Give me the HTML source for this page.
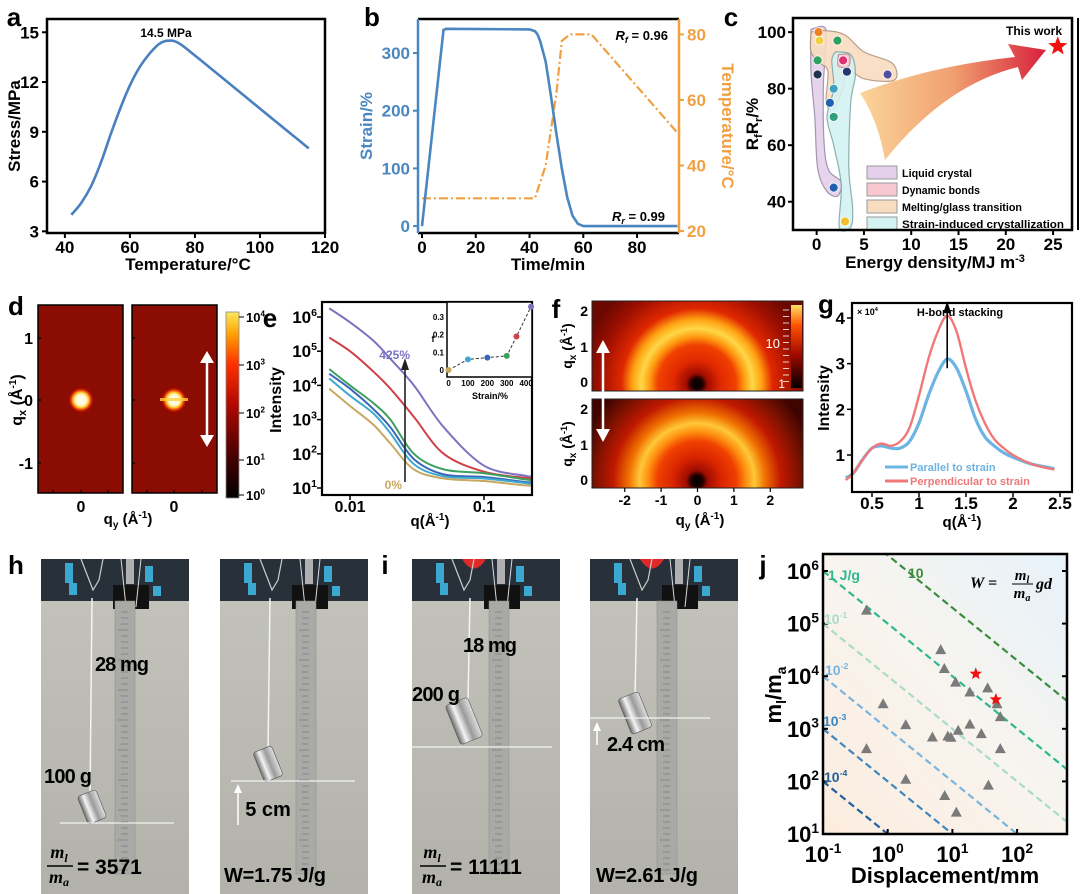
<!DOCTYPE html>
<html><head><meta charset="utf-8">
<style>
html,body{margin:0;padding:0;background:#fff;overflow:hidden;}
svg{display:block;font-family:"Liberation Sans",Arial,sans-serif;}
</style></head>
<body>
<svg id="fig" width="1080" height="894" viewBox="0 0 1080 894" xmlns="http://www.w3.org/2000/svg">
<defs>
<linearGradient id="fanGrad" x1="0" y1="0" x2="1" y2="0">
<stop offset="0" stop-color="#fbd49a"/><stop offset="0.5" stop-color="#f0a070"/><stop offset="1" stop-color="#d8203c"/></linearGradient>
<radialGradient id="spotL"><stop offset="0" stop-color="#ffffff"/><stop offset="0.45" stop-color="#fff6c0"/><stop offset="0.6" stop-color="#ffc020"/><stop offset="0.8" stop-color="#e02000"/><stop offset="1" stop-color="#8b0c02" stop-opacity="0"/></radialGradient>
<linearGradient id="cbarD" x1="0" y1="1" x2="0" y2="0"><stop offset="0" stop-color="#000"/><stop offset="0.25" stop-color="#500000"/><stop offset="0.5" stop-color="#b00800"/><stop offset="0.72" stop-color="#ff3000"/><stop offset="0.88" stop-color="#ffa000"/><stop offset="1" stop-color="#ffe860"/></linearGradient>
<radialGradient id="ringTop" cx="0.5" cy="0.5" r="0.5"><stop offset="0" stop-color="#000"/><stop offset="0.05" stop-color="#200000"/><stop offset="0.09" stop-color="#a00c00"/><stop offset="0.2" stop-color="#e02800"/><stop offset="0.33" stop-color="#f04000"/><stop offset="0.4" stop-color="#ff9a10"/><stop offset="0.47" stop-color="#ffd848"/><stop offset="0.55" stop-color="#ffa010"/><stop offset="0.64" stop-color="#e02800"/><stop offset="0.82" stop-color="#a01000"/><stop offset="1" stop-color="#6a0800"/></radialGradient>
<radialGradient id="ringBot" cx="0.5" cy="0.5" r="0.5"><stop offset="0" stop-color="#000"/><stop offset="0.05" stop-color="#200000"/><stop offset="0.09" stop-color="#a00c00"/><stop offset="0.2" stop-color="#d82400"/><stop offset="0.33" stop-color="#f04000"/><stop offset="0.41" stop-color="#ff9010"/><stop offset="0.48" stop-color="#ffc838"/><stop offset="0.57" stop-color="#f07000"/><stop offset="0.7" stop-color="#c01800"/><stop offset="0.88" stop-color="#701000"/><stop offset="1" stop-color="#400400"/></radialGradient>
<linearGradient id="cbarF" x1="0" y1="1" x2="0" y2="0"><stop offset="0" stop-color="#000"/><stop offset="0.4" stop-color="#a00800"/><stop offset="0.75" stop-color="#ff5000"/><stop offset="1" stop-color="#ffe060"/></linearGradient>
<linearGradient id="jBg" x1="0" y1="1" x2="1" y2="0"><stop offset="0" stop-color="#fcecde"/><stop offset="0.5" stop-color="#f8f4ee"/><stop offset="1" stop-color="#e6f2fa"/></linearGradient>
<linearGradient id="photoBg" x1="0" y1="0" x2="0" y2="1"><stop offset="0" stop-color="#c4c4bc"/><stop offset="1" stop-color="#b2b2aa"/></linearGradient>
<linearGradient id="metal" x1="0" y1="0" x2="1" y2="0"><stop offset="0" stop-color="#6a6a6a"/><stop offset="0.3" stop-color="#f4f4f4"/><stop offset="0.6" stop-color="#9a9a9a"/><stop offset="1" stop-color="#e0e0e0"/></linearGradient>
<clipPath id="clipE"><rect x="322" y="302" width="210" height="193"/></clipPath>
<clipPath id="clipJ"><rect x="823" y="554" width="244" height="280"/></clipPath>
<clipPath id="clipFT"><rect x="592" y="301" width="211" height="90"/></clipPath>
<clipPath id="clipFB"><rect x="592" y="399" width="211" height="89"/></clipPath>
</defs>
</svg>
<script>
// ---------------- DATA ----------------
const aTemp=[42,45,48,51,54,57,60,63,66,69,72,75,80,85,90,95,100,105,110,115];
const aStress=[4,4.7,5.7,7.1,8.8,10.4,11.8,12.9,13.7,14.3,14.5,14.35,13.6,12.8,12,11.2,10.4,9.6,8.8,8];
const aXTicks=[40,60,80,100,120];
const aYTicks=[3,6,9,12,15];
const bTimeS=[0,8,9,40,42,43,44,46,48,50,52,54,56,58,60,95];
const bStrain=[0,340,342,341,338,332,320,285,225,160,100,50,18,4,0,0];
const bTimeT=[0,42,46,50,52,55,63,95];
const bTemp=[30,30,40,62,78,80,80,50];
const bXTicks=[0,20,40,60,80];
const bYTicks=[0,100,200,300];
const bY2Ticks=[20,40,60,80];
const cXTicks=[0,5,10,15,20,25];
const cYTicks=[40,60,80,100];
const cPtsX=[0.2,0.3,0.1,0.1,2.2,7.5,2.8,3.2,1.8,1.4,1.8,1.8,3.0];
const cPtsY=[100,97,90,85,97,85,90,86,80,75,70,45,33];
const cPtsC=['#f08020','#f0d040','#30a060','#203050','#30a060','#5050a0','#e03070','#203870','#40a0c0','#2060b0','#30a080','#2060b0','#f0c030'];
const cLegend=['Liquid crystal','Dynamic bonds','Melting/glass transition','Strain-induced crystallization'];
const cStar=[25.5,95];
const eQ=[0.007,0.01,0.015,0.02,0.03,0.05,0.1,0.2,0.23];
const eSeries=[
 [1.8e6,7e5,2e5,6e4,1e4,6e2,45,23,22],
 [2.5e5,1e5,2.5e4,8e3,1.2e3,1e2,30,20,19],
 [3e4,1e4,3e3,1e3,100,35,27,18,17],
 [2.2e4,8e3,2e3,6e2,70,25,21,15,15],
 [1.6e4,5e3,1.5e3,4e2,50,22,19,14,13],
 [8e3,2.5e3,7e2,2e2,35,19,16,12,12]];
const eColors=['#7b72c0','#d04048','#3ca060','#3a68b8','#40a8d0','#c8a860'];
const eYTicks=[1,2,3,4,5,6];
const eXTicks=[0.01,0.1];
const insStrain=[0,100,200,300,350,425];
const insF=[0,0.06,0.07,0.08,0.19,0.36];
const gQ=[0.22,0.3,0.4,0.5,0.6,0.7,0.8,0.9,1.0,1.1,1.2,1.3,1.4,1.5,1.6,1.7,1.8,1.9,2.0,2.2,2.44];
const gPar=[0.5,0.6,0.9,1.15,1.2,1.15,1.15,1.3,1.7,2.3,2.8,3.1,2.9,2.4,1.8,1.4,1.2,1.05,0.95,0.8,0.7];
const gPerp=[0.45,0.6,0.9,1.15,1.25,1.2,1.3,1.6,2.3,3.1,3.7,4.05,3.7,2.9,2.2,1.7,1.35,1.15,1.0,0.8,0.68];
const gXTicks=[0.5,1,1.5,2,2.5];
const gYTicks=[1,2,3,4];
const jDisp=[0.47,0.47,0.85,1.9,1.9,6.6,7.5,4.9,7.6,8.5,9.5,11.5,11.2,12.3,18.6,18.6,28,35,36,49,55,55];
const jRatio=[1.8e5,420,3000,1200,110,32000,14000,700,54,730,690,26,7700,940,5000,1230,810,6000,85,3000,420,1700];
const jStarDisp=[23,47];
const jStarRatio=[11100,3600];
const jW=[20,1,0.1,0.01,0.001,0.0001];
const jWColors=['#3c8c3c','#2eb890','#a8dcc8','#7ab4dc','#3f86c0','#2060a0'];
const jXTicks=[-1,0,1,2];
const jYTicks=[1,2,3,4,5,6];

// ---------------- HELPERS ----------------
const NS='http://www.w3.org/2000/svg';
const svg=document.getElementById('fig');
function mk(tag,parent,attrs,name,inter){
 const e=document.createElementNS(NS,tag);
 for(const k in attrs) e.setAttribute(k,attrs[k]);
 
 
 parent.appendChild(e);return e;}
function grp(name){return mk('g',svg,{},name,false);}
function txt(p,x,y,s,size,anchor,fill,name,weight,extra){
 const a={x:x,y:y,'font-size':size,'text-anchor':anchor||'middle',fill:fill||'#000','font-weight':weight||'bold'};
 if(extra) for(const k in extra) a[k]=extra[k];
 const e=mk('text',p,a,name,false);e.textContent=s;return e;}
function sup(p,x,y,base,ex,size,anchor,fill,name){
 const e=mk('text',p,{x:x,y:y,'font-size':size,'text-anchor':anchor||'middle',fill:fill||'#000','font-weight':'bold'},name,false);
 const t1=document.createElementNS(NS,'tspan');t1.textContent=base;e.appendChild(t1);
 const t2=document.createElementNS(NS,'tspan');t2.setAttribute('dy',-size*0.42);t2.setAttribute('font-size',size*0.62);t2.textContent=ex;e.appendChild(t2);
 return e;}
function lin(d0,d1,r0,r1){return v=>r0+(v-d0)/(d1-d0)*(r1-r0);}
function logs(d0,d1,r0,r1){return v=>r0+(Math.log10(v)-d0)/(d1-d0)*(r1-r0);}
function pathOf(xs,ys,fx,fy){let d='';for(let i=0;i<xs.length;i++)d+=(i?'L':'M')+fx(xs[i]).toFixed(1)+','+fy(ys[i]).toFixed(1);return d;}
function smooth(xs,ys,fx,fy){
 const P=xs.map((v,i)=>[fx(v),fy(ys[i])]);let d='M'+P[0][0].toFixed(1)+','+P[0][1].toFixed(1);
 for(let i=0;i<P.length-1;i++){const p0=P[i-1]||P[i],p1=P[i],p2=P[i+1],p3=P[i+2]||P[i+1];
  const c1=[p1[0]+(p2[0]-p0[0])/6,p1[1]+(p2[1]-p0[1])/6],c2=[p2[0]-(p3[0]-p1[0])/6,p2[1]-(p3[1]-p1[1])/6];
  d+='C'+c1[0].toFixed(1)+','+c1[1].toFixed(1)+' '+c2[0].toFixed(1)+','+c2[1].toFixed(1)+' '+p2[0].toFixed(1)+','+p2[1].toFixed(1);}
 return d;}
function label(x,y,s){return txt(svg,x,y,s,26,'middle','#000','panel-label-'+s,'bold');}

// ---------------- PANEL A ----------------
(function(){
 const g=grp('panel-a-chart');
 const X0=47,X1=325,Y0=19,Y1=233;
 const fx=lin(34.5,120,X0,X1), fy=lin(2.9,15.8,Y1,Y0);
 aXTicks.forEach(v=>{mk('line',g,{x1:fx(v),x2:fx(v),y1:Y1,y2:Y1+5,stroke:'#000','stroke-width':2},'x-tick',false);
  txt(g,fx(v),Y1+20,String(v),17,'middle','#000','x-tick-label');});
 aYTicks.forEach(v=>{mk('line',g,{x1:X0-5,x2:X0,y1:fy(v),y2:fy(v),stroke:'#000','stroke-width':2},'y-tick',false);
  txt(g,X0-8,fy(v)+6,String(v),17,'end','#000','y-tick-label');});
 mk('path',g,{d:smooth(aTemp,aStress,fx,fy),fill:'none',stroke:'#4a7fc0','stroke-width':2.6},'stress-curve',false);
 mk('rect',g,{x:X0,y:Y0,width:X1-X0,height:Y1-Y0,fill:'none',stroke:'#000','stroke-width':2.5},'plot-frame',false);
 txt(g,166,37,'14.5 MPa',12,'middle','#000','peak-annotation');
 txt(g,188,270,'Temperature/°C',17,'middle','#000','x-axis-title');
 txt(g,20,126,'Stress/MPa',17,'middle','#000','y-axis-title','bold',{transform:'rotate(-90 20 126)'});
})();
label(14,26,'a');

// ---------------- PANEL B ----------------
(function(){
 const g=grp('panel-b-chart');
 const X0=418,X1=679,Y0=19,Y1=233;
 const fx=lin(0,95.6,422,679), fy=lin(-12,359,Y1,Y0), fy2=lin(19.4,84.7,Y1,Y0);
 const blue='#4a86c0',orange='#f0a040';
 bXTicks.forEach(v=>{mk('line',g,{x1:fx(v),x2:fx(v),y1:Y1,y2:Y1+5,stroke:'#000','stroke-width':2},'x-tick',false);
  txt(g,fx(v),Y1+20,String(v),17,'middle','#000','x-tick-label');});
 bYTicks.forEach(v=>{mk('line',g,{x1:X0-5,x2:X0,y1:fy(v),y2:fy(v),stroke:blue,'stroke-width':2},'y-tick',false);
  txt(g,X0-8,fy(v)+6,String(v),17,'end',blue,'y-tick-label');});
 bY2Ticks.forEach(v=>{mk('line',g,{x1:X1,x2:X1+5,y1:fy2(v),y2:fy2(v),stroke:orange,'stroke-width':2},'y2-tick',false);
  txt(g,X1+8,fy2(v)+6,String(v),17,'start',orange,'y2-tick-label');});
 mk('path',g,{d:pathOf(bTimeT,bTemp,fx,fy2),fill:'none',stroke:orange,'stroke-width':2.2,'stroke-dasharray':'9 3 2 3'},'temperature-line',false);
 mk('path',g,{d:pathOf(bTimeS,bStrain,fx,fy),fill:'none',stroke:blue,'stroke-width':2.6,'stroke-linejoin':'round'},'strain-curve',false);
 mk('line',g,{x1:X0,x2:X1,y1:Y0,y2:Y0,stroke:'#000','stroke-width':2.5},'top-frame',false);
 mk('line',g,{x1:X0,x2:X1,y1:Y1,y2:Y1,stroke:'#000','stroke-width':2.5},'bottom-frame',false);
 mk('line',g,{x1:X0,x2:X0,y1:Y0,y2:Y1,stroke:blue,'stroke-width':2.5},'left-axis',false);
 mk('line',g,{x1:X1,x2:X1,y1:Y0,y2:Y1,stroke:orange,'stroke-width':2.5},'right-axis',false);
 const r1=txt(g,668,40,'',13,'end','#000','rf-annotation');r1.innerHTML='<tspan font-style="italic">R</tspan><tspan font-size="9" dy="3" font-style="italic">f</tspan><tspan dy="-3"> = 0.96</tspan>';
 const r2=txt(g,665,221,'',13,'end','#000','rr-annotation');r2.innerHTML='<tspan font-style="italic">R</tspan><tspan font-size="9" dy="3" font-style="italic">r</tspan><tspan dy="-3"> = 0.99</tspan>';
 txt(g,548,270,'Time/min',17,'middle','#000','x-axis-title');
 txt(g,372,126,'Strain/%',17,'middle',blue,'y-axis-title','bold',{transform:'rotate(-90 372 126)'});
 txt(g,722,126,'Temperature/°C',17,'middle',orange,'y2-axis-title','bold',{transform:'rotate(90 722 126)'});
})();
label(372,26,'b');

// ---------------- PANEL C ----------------
(function(){
 const g=grp('panel-c-chart');
 const X0=793,X1=1072,Y0=18,Y1=230;
 const fx=lin(-2.5,27,X0,X1), fy=lin(30,105,Y1,Y0);
 function blob(pts,fill,stroke,name){const xs=pts.map(p=>p[0]),ys=pts.map(p=>p[1]);
  mk('path',g,{d:smooth(xs.concat([xs[0]]),ys.concat([ys[0]]),fx,fy)+'Z',fill:fill,stroke:stroke,'stroke-width':1.2,opacity:0.9},name,false);}
 blob([[-0.6,101],[0.9,101.5],[0.9,92],[0.7,80],[0.8,60],[1.3,51],[2.6,47],[2.2,42],[1.0,44],[0.1,52],[-0.2,70],[-0.6,86]],'#e4d0ea','#9a8aa8','liquid-crystal-region');
 blob([[-0.6,100],[1,100.5],[3,99],[5,93],[8,89],[8.2,83],[5,83.5],[3.2,87],[2.8,80],[1.8,73],[1.0,75],[1.2,86],[0.4,89],[-0.6,93]],'#f8dcc0','#b09880','melting-region');
 blob([[2.0,93],[3.6,92],[4.1,85],[3.6,75],[3.4,52],[3.8,38],[3.6,31],[2.4,31],[2.6,46],[1.8,60],[1.1,70],[1.8,80],[1.6,90]],'#d4f2f2','#80a8a8','strain-crystallization-region');
 blob([[2.3,92],[3.4,92],[3.4,88],[2.3,88]],'#f8c8d0','#c08890','dynamic-bonds-region');
 cPtsX.forEach((v,i)=>{mk('circle',g,{cx:fx(v),cy:fy(cPtsY[i]),r:4.5,fill:cPtsC[i],stroke:'#fff','stroke-width':0.8},'literature-point',false);});
 mk('path',g,{d:'M860,93 Q930,66 1015,57 L1008,44 L1046,50 L1022,80 L1018,67 Q945,85 885,160 Q878,120 860,93Z',fill:'url(#fanGrad)'},'energy-arrow',false);
 const sx=fx(cStar[0]),sy=fy(cStar[1]);let sp='';
 for(let k=0;k<10;k++){const r=k%2?4.2:10,a=-Math.PI/2+k*Math.PI/5;sp+=(k?'L':'M')+(sx+r*Math.cos(a)).toFixed(1)+','+(sy+r*Math.sin(a)).toFixed(1);}
 mk('path',g,{d:sp+'Z',fill:'#f01010'},'this-work-star',false);
 txt(g,1034,35,'This work',12,'middle','#000','this-work-label');
 const lc=['#e4d0ea','#f8c8d0','#f8dcc0','#d4f2f2'];
 const lw=[70,78,120,162];
 cLegend.forEach((s,i)=>{const y=166+i*17;mk('rect',g,{x:867,y:y,width:30,height:13,fill:lc[i],stroke:'#999','stroke-width':1},'legend-swatch',false);
  txt(g,902,y+11,s,11,'start','#000','legend-entry','bold',{textLength:lw[i],lengthAdjust:'spacingAndGlyphs'});});
 cXTicks.forEach(v=>{mk('line',g,{x1:fx(v),x2:fx(v),y1:Y1,y2:Y1+5,stroke:'#000','stroke-width':2},'x-tick',false);
  txt(g,fx(v),Y1+20,String(v),17,'middle','#000','x-tick-label');});
 cYTicks.forEach(v=>{mk('line',g,{x1:X0-5,x2:X0,y1:fy(v),y2:fy(v),stroke:'#000','stroke-width':2},'y-tick',false);
  txt(g,X0-7,fy(v)+6,String(v),17,'end','#000','y-tick-label');});
 mk('rect',g,{x:X0,y:Y0,width:X1-X0,height:Y1-Y0,fill:'none',stroke:'#000','stroke-width':2.5},'plot-frame',false);
 mk('line',g,{x1:1078,x2:1078,y1:Y0,y2:Y1,stroke:'#000','stroke-width':2},'edge-line',false);
 const xt=txt(g,935,268,'',17,'middle','#000','x-axis-title');xt.innerHTML='Energy density/MJ m<tspan dy="-6" font-size="11">-3</tspan>';
 const yt=txt(g,758,124,'',17,'middle','#000','y-axis-title','bold',{transform:'rotate(-90 758 124)'});yt.innerHTML='R<tspan font-size="11" dy="4">f</tspan><tspan dy="-4">R</tspan><tspan font-size="11" dy="4">r</tspan><tspan dy="-4">/%</tspan>';
})();
label(731,26,'c');

// ---------------- PANEL D ----------------
(function(){
 const g=grp('panel-d-maps');
 [[38,81,'left'],[132,174,'right']].forEach(m=>{
  mk('rect',g,{x:m[0],y:305,width:85,height:188,fill:'#8b0c02',stroke:'#000','stroke-width':1.5},'saxs-map-'+m[2],false);
  mk('circle',g,{cx:m[1],cy:400,r:13,fill:'url(#spotL)'},'beam-spot',false);
  [338,400,463].forEach(y=>{mk('line',g,{x1:m[0],x2:m[0]+3,y1:y,y2:y,stroke:'#000','stroke-width':1.2},'y-tick',false);});
  [m[0]+15,m[1],m[0]+70].forEach(x=>{mk('line',g,{x1:x,x2:x,y1:493,y2:490,stroke:'#000','stroke-width':1.2},'x-tick',false);});
  txt(g,m[1],512,'0',16,'middle','#000','x-tick-label');
 });
 mk('rect',g,{x:160,y:398,width:28,height:3,fill:'#ffd040',opacity:0.8},'streak',false);
 mk('line',g,{x1:207,x2:207,y1:360,y2:438,stroke:'#fff','stroke-width':2.5},'strain-arrow',false);
 mk('path',g,{d:'M200,363 L207,351 L214,363Z M200,435 L207,447 L214,435Z',fill:'#fff'},'strain-arrow-heads',false);
 [['1',338],['0',400],['-1',463]].forEach(t=>txt(g,33,t[1]+6,t[0],16,'end','#000','y-tick-label'));
 const q=txt(g,22,400,'',16,'middle','#000','y-axis-title','bold',{transform:'rotate(-90 22 400)'});q.innerHTML='q<tspan font-size="11" dy="4">x</tspan><tspan dy="-4"> (Å</tspan><tspan font-size="10" dy="-6">-1</tspan><tspan dy="6">)</tspan>';
 const qy=txt(g,128,524,'',15,'middle','#000','x-axis-title');qy.innerHTML='q<tspan font-size="10" dy="4">y</tspan><tspan dy="-4"> (Å</tspan><tspan font-size="10" dy="-6">-1</tspan><tspan dy="6">)</tspan>';
 mk('rect',g,{x:226,y:312,width:13,height:186,fill:'url(#cbarD)',stroke:'#888','stroke-width':0.8},'colorbar',false);
 [[317,'4'],[365,'3'],[413,'2'],[460,'1'],[495,'0']].forEach(t=>{
  mk('line',g,{x1:239,x2:244,y1:t[0],y2:t[0],stroke:'#000','stroke-width':1},'colorbar-tick',false);
  sup(g,246,t[0]+5,'10',t[1],13,'start','#000','colorbar-label');});
})();
label(16,315,'d');

// ---------------- PANEL E ----------------
(function(){
 const g=grp('panel-e-chart');
 const X0=322,X1=532,Y0=302,Y1=495;
 const fx=logs(-2.209,-0.642,X0,X1), fy=v=>488-(Math.log10(v)-1)*34.2;
 const pg=mk('g',g,{'clip-path':'url(#clipE)'},'curves',false);
 eSeries.forEach((s,i)=>{mk('path',pg,{d:smooth(eQ,s,fx,fy),fill:'none',stroke:eColors[i],'stroke-width':2},'saxs-curve-'+i,false);});
 mk('rect',g,{x:X0,y:Y0,width:X1-X0,height:Y1-Y0,fill:'none',stroke:'#000','stroke-width':2.2},'plot-frame',false);
 eYTicks.forEach(v=>{mk('line',g,{x1:X0-5,x2:X0,y1:fy(Math.pow(10,v)),y2:fy(Math.pow(10,v)),stroke:'#000','stroke-width':1.5},'y-tick',false);
  sup(g,X0-5,fy(Math.pow(10,v))+6,'10',String(v),17,'end','#000','y-tick-label');});
 eXTicks.forEach(v=>{mk('line',g,{x1:fx(v),x2:fx(v),y1:Y1,y2:Y1+5,stroke:'#000','stroke-width':1.5},'x-tick',false);
  txt(g,fx(v),Y1+17,String(v),16,'middle','#000','x-tick-label');});
 mk('line',g,{x1:405,x2:405,y1:482,y2:368,stroke:'#222','stroke-width':1.6},'increase-arrow',false);
 mk('path',g,{d:'M401,370 L405,358 L409,370Z',fill:'#222'},'arrow-head',false);
 txt(g,410,359,'425%',12,'end','#7b72c0','label-425');
 txt(g,402,489,'0%',12,'end','#c8a860','label-0');
 txt(g,281,400,'Intensity',16,'middle','#000','y-axis-title','bold',{transform:'rotate(-90 281 400)'});
 const qt=txt(g,430,526,'',15,'middle','#000','x-axis-title');qt.innerHTML='q(Å<tspan font-size="10" dy="-6">-1</tspan><tspan dy="6">)</tspan>';
 const IX0=447,IX1=532,IY0=302,IY1=377;
 const ix=lin(-8,430,IX0,IX1), iy=lin(-0.04,0.386,IY1,IY0);
 mk('rect',g,{x:IX0,y:IY0,width:IX1-IX0,height:IY1-IY0,fill:'#fff',stroke:'#000','stroke-width':1.5},'inset-frame',false);
 mk('path',g,{d:pathOf(insStrain,insF,ix,iy),fill:'none',stroke:'#333','stroke-width':1,'stroke-dasharray':'3 2'},'inset-line',false);
 const ic=['#c8a860','#40a8d0','#3a68b8','#3ca060','#d04048','#7b72c0'];
 insStrain.forEach((v,i)=>mk('circle',g,{cx:ix(v),cy:iy(insF[i]),r:3,fill:ic[i]},'inset-point',false));
 [0,0.1,0.2,0.3].forEach(v=>txt(g,IX0-3,iy(v)+3,String(v),8,'end','#000','inset-y-label'));
 [0,100,200,300,400].forEach(v=>txt(g,ix(v),IY1+9,String(v),8,'middle','#000','inset-x-label'));
 txt(g,490,399,'Strain/%',9,'middle','#000','inset-x-title');
 txt(g,433,342,'f',9,'middle','#000','inset-y-title');
})();
label(270,327,'e');

// ---------------- PANEL F ----------------
(function(){
 const g=grp('panel-f-maps');
 const fx=lin(-2.9,2.9,592,803);
 const t=mk('g',g,{'clip-path':'url(#clipFT)'},'waxs-top',false);
 mk('rect',t,{x:592,y:301,width:211,height:90,fill:'#6a0800'},'map-bg',false);
 mk('circle',t,{cx:697,cy:384,r:118,fill:'url(#ringTop)'},'diffraction-ring',false);
 const b=mk('g',g,{'clip-path':'url(#clipFB)'},'waxs-bottom',false);
 mk('rect',b,{x:592,y:399,width:211,height:89,fill:'#400400'},'map-bg',false);
 mk('circle',b,{cx:697,cy:481,r:120,fill:'url(#ringBot)'},'diffraction-ring',false);
 mk('rect',g,{x:592,y:301,width:211,height:90,fill:'none',stroke:'#222','stroke-width':1},'frame-top',false);
 mk('rect',g,{x:592,y:399,width:211,height:89,fill:'none',stroke:'#222','stroke-width':1},'frame-bottom',false);
 mk('rect',g,{x:791,y:305,width:11,height:83,fill:'url(#cbarF)'},'colorbar',false);
 for(let i=0;i<12;i++){mk('line',g,{x1:783,x2:789,y1:310+i*6.5,y2:310+i*6.5,stroke:'#fff','stroke-width':0.8},'colorbar-tick',false);}
 txt(g,780,348,'10',13,'end','#fff','colorbar-label','normal');
 txt(g,785,388,'1',12,'end','#fff','colorbar-label','normal');
 mk('line',g,{x1:603,x2:603,y1:350,y2:432,stroke:'#fff','stroke-width':2.5},'strain-arrow',false);
 mk('path',g,{d:'M596,353 L603,340 L610,353Z M596,429 L603,442 L610,429Z',fill:'#fff'},'strain-arrow-heads',false);
 [-2,-1,0,1,2].forEach(v=>{txt(g,fx(v),505,String(v),14,'middle','#000','x-tick-label');
  mk('line',g,{x1:fx(v),x2:fx(v),y1:488,y2:492,stroke:'#000','stroke-width':1.2},'x-tick',false);});
 [[311,'2'],[347,'1'],[382,'0'],[409,'2'],[445,'1'],[480,'0']].forEach(p=>txt(g,588,p[0]+5,p[1],14,'end','#000','y-tick-label'));
 [[572,346],[572,444]].forEach(p=>{const q=txt(g,p[0],p[1],'',14,'middle','#000','y-axis-title','bold',{transform:'rotate(-90 '+p[0]+' '+p[1]+')'});q.innerHTML='q<tspan font-size="10" dy="4">x</tspan><tspan dy="-4"> (Å</tspan><tspan font-size="9" dy="-5">-1</tspan><tspan dy="5">)</tspan>';});
 const qy=txt(g,700,525,'',15,'middle','#000','x-axis-title');qy.innerHTML='q<tspan font-size="10" dy="4">y</tspan><tspan dy="-4"> (Å</tspan><tspan font-size="10" dy="-6">-1</tspan><tspan dy="6">)</tspan>';
})();
label(556,318,'f');

// ---------------- PANEL G ----------------
(function(){
 const g=grp('panel-g-chart');
 const X0=852,X1=1072,Y0=303,Y1=492;
 const fx=lin(0.5,2.5,872,1060), fy=lin(1,4,455,318);
 mk('path',g,{d:smooth(gQ,gPar,fx,fy),fill:'none',stroke:'#6cb4e4','stroke-width':3.2},'parallel-curve',false);
 mk('path',g,{d:smooth(gQ,gPerp,fx,fy),fill:'none',stroke:'#f07878','stroke-width':2.4},'perpendicular-curve',false);
 mk('rect',g,{x:X0,y:Y0,width:X1-X0,height:Y1-Y0,fill:'none',stroke:'#000','stroke-width':2.2},'plot-frame',false);
 gXTicks.forEach(v=>{mk('line',g,{x1:fx(v),x2:fx(v),y1:Y1,y2:Y1+5,stroke:'#000','stroke-width':1.5},'x-tick',false);
  txt(g,fx(v),Y1+17,String(v),17,'middle','#000','x-tick-label');});
 gYTicks.forEach(v=>{mk('line',g,{x1:X0-5,x2:X0,y1:fy(v),y2:fy(v),stroke:'#000','stroke-width':1.5},'y-tick',false);
  txt(g,X0-7,fy(v)+6,String(v),17,'end','#000','y-tick-label');});
 mk('line',g,{x1:fx(1.3),x2:fx(1.3),y1:fy(2.9),y2:fy(4.15),stroke:'#000','stroke-width':1.6},'stacking-arrow',false);
 mk('path',g,{d:'M'+(fx(1.3)-4)+','+(fy(4.15)+2)+' L'+fx(1.3)+','+(fy(4.15)-10)+' L'+(fx(1.3)+4)+','+(fy(4.15)+2)+'Z',fill:'#000'},'arrow-head',false);
 txt(g,960,316,'H-bond stacking',11,'middle','#000','stacking-label');
 sup(g,857,315,'× 10','4',9,'start','#000','y-multiplier');
 mk('line',g,{x1:885,x2:908,y1:467,y2:467,stroke:'#6cb4e4','stroke-width':3},'legend-line-parallel',false);
 txt(g,910,471,'Parallel to strain',11,'start','#6cb4e4','legend-entry-parallel');
 mk('line',g,{x1:885,x2:908,y1:481,y2:481,stroke:'#f07878','stroke-width':3},'legend-line-perpendicular',false);
 txt(g,910,485,'Perpendicular to strain',11,'start','#f07878','legend-entry-perpendicular');
 txt(g,829,398,'Intensity',16,'middle','#000','y-axis-title','bold',{transform:'rotate(-90 829 398)'});
 const qt=txt(g,962,527,'',15,'middle','#000','x-axis-title');qt.innerHTML='q(Å<tspan font-size="10" dy="-6">-1</tspan><tspan dy="6">)</tspan>';
})();
label(826,313,'g');

// ---------------- PHOTOS ----------------
function photo(x0,name,red,weight,rulerX,strX,strBot,lineY,lineX0,lineX1){
 const g=grp(name);
 mk('rect',g,{x:x0,y:559,width:148,height:335,fill:'url(#photoBg)'},'photo-background',false);
 mk('rect',g,{x:x0,y:559,width:148,height:42,fill:'#28303a'},'clamp-band',false);
 mk('rect',g,{x:x0+24,y:563,width:8,height:20,fill:'#3aa8d0'},'knob',false);
 mk('rect',g,{x:x0+28,y:583,width:8,height:12,fill:'#3aa8d0'},'knob',false);
 mk('rect',g,{x:x0+104,y:566,width:8,height:16,fill:'#3aa8d0'},'knob',false);
 mk('rect',g,{x:x0+112,y:586,width:8,height:10,fill:'#3aa8d0'},'knob',false);
 if(red){mk('path',g,{d:'M'+(x0+50)+',559 Q'+(x0+62)+',578 '+(x0+74)+',559Z',fill:'#e02a2a'},'red-clip',false);}
 mk('path',g,{d:'M'+(x0+40)+',559 L'+(x0+52)+',590 L'+(x0+58)+',580 L'+(x0+62)+',559',fill:'none',stroke:'#ccc','stroke-width':1.2},'clip-wire',false);
 mk('rect',g,{x:x0+85,y:559,width:8,height:25,fill:'#b0b0b0'},'clamp-rod',false);
 mk('rect',g,{x:x0+72,y:585,width:36,height:24,fill:'#111'},'binder-clip',false);
 mk('path',g,{d:'M'+(x0+80)+',559 L'+(x0+85)+',607 M'+(x0+100)+',559 L'+(x0+95)+',607',stroke:'#ddd','stroke-width':1,fill:'none'},'clip-handles',false);
 mk('rect',g,{x:rulerX,y:601,width:20,height:273,fill:'#a9a9a6',stroke:'#8a8a88','stroke-width':0.5},'ruler',false);
 for(let y=612;y<872;y+=6){mk('line',g,{x1:rulerX+ (y%30<6?3:6),x2:rulerX+13,y1:y,y2:y,stroke:'#666','stroke-width':0.5},'ruler-mark',false);}
 mk('line',g,{x1:strX,x2:strX-2,y1:598,y2:strBot,stroke:'#f4f4f4','stroke-width':1.5},'polymer-fiber',false);
 const w=weight;
 mk('rect',g,{x:w[0],y:w[1],width:w[2],height:w[3],rx:3,fill:'url(#metal)',stroke:'#555','stroke-width':0.6,transform:'rotate(-22 '+(w[0]+w[2]/2)+' '+(w[1]+w[3]/2)+')'},'weight',false);
 mk('line',g,{x1:lineX0,x2:lineX1,y1:lineY,y2:lineY,stroke:'#f2f2f2','stroke-width':1.3},'reference-line',false);
 return g;}
const p1=photo(41,'photo-h-before',false,[82,792,20,30],115,92,797,823,60,174);
txt(p1,122,671,'28 mg',20,'middle','#000','label-28mg','bold',{textLength:54});
txt(p1,68,783,'100 g',20,'middle','#000','label-100g','bold',{textLength:48});
function frac(p,x,y,val,name){
 const a=txt(p,x+12,y-8,'',18,'middle','#000',name+'-num','bold',{'font-family':'Liberation Serif, serif','font-style':'italic'});a.innerHTML='m<tspan font-size="12" dy="4">l</tspan>';
 mk('line',p,{x1:x,x2:x+26,y1:y,y2:y,stroke:'#000','stroke-width':1.5},name+'-bar',false);
 const b=txt(p,x+12,y+17,'',18,'middle','#000',name+'-den','bold',{'font-family':'Liberation Serif, serif','font-style':'italic'});b.innerHTML='m<tspan font-size="12" dy="3">a</tspan>';
 txt(p,x+30,y+8,'= '+val,21,'start','#000',name+'-value','bold');}
frac(p1,47,866,'3571','ratio-h');
const p2=photo(220,'photo-h-after',false,[258,748,20,32],296,270,752,781,231,355);
mk('line',p2,{x1:238,x2:238,y1:825,y2:791,stroke:'#fff','stroke-width':1.5},'lift-arrow',false);
mk('path',p2,{d:'M234,793 L238,784 L242,793Z',fill:'#fff'},'lift-arrow-head',false);
txt(p2,268,816,'5 cm',20,'middle','#000','label-5cm','bold');
txt(p2,224,882,'W=1.75 J/g',20,'start','#000','work-h','bold',{textLength:102});
const p3=photo(412,'photo-i-before',true,[452,700,24,42],489,470,700,747,412,552);
txt(p3,490,652,'18 mg',20,'middle','#000','label-18mg','bold',{textLength:54});
txt(p3,436,701,'200 g',20,'middle','#000','label-200g','bold',{textLength:48});
frac(p3,420,866,'11111','ratio-i');
const p4=photo(590,'photo-i-after',true,[624,694,22,38],657,637,697,718,590,710);
mk('line',p4,{x1:597,x2:597,y1:745,y2:728,stroke:'#fff','stroke-width':1.5},'lift-arrow',false);
mk('path',p4,{d:'M593,731 L597,722 L601,731Z',fill:'#fff'},'lift-arrow-head',false);
txt(p4,636,751,'2.4 cm',20,'middle','#000','label-2-4cm','bold',{textLength:58});
txt(p4,596,882,'W=2.61 J/g',20,'start','#000','work-i','bold',{textLength:102});
label(16,574,'h');
label(385,574,'i');
label(763,574,'j');

// ---------------- PANEL J ----------------
(function(){
 const g=grp('panel-j-chart');
 const X0=823,X1=1067,Y0=554,Y1=834;
 const fx=v=>823+(Math.log10(v)+1)*64.7, fy=v=>834-(Math.log10(v)-1)*52.6;
 mk('rect',g,{x:X0,y:Y0,width:X1-X0,height:Y1-Y0,fill:'url(#jBg)'},'plot-background',false);
 const cg=mk('g',g,{'clip-path':'url(#clipJ)'},'work-lines',false);
 jW.forEach((w,i)=>{const s=Math.log10(w)+5;const d0=0.1,d1=600;
  mk('line',cg,{x1:fx(d0),y1:fy(Math.pow(10,s-Math.log10(d0))),x2:fx(d1),y2:fy(Math.pow(10,s-Math.log10(d1))),stroke:jWColors[i],'stroke-width':2.2,'stroke-dasharray':'7 4'},'iso-work-line-'+i,false);});
 jDisp.forEach((d,i)=>{const x=fx(d),y=fy(jRatio[i]);
  mk('path',g,{d:'M'+(x-5.5)+','+(y+4.5)+' L'+x+','+(y-5.5)+' L'+(x+5.5)+','+(y+4.5)+'Z',fill:'#7a7a7a'},'literature-point',false);});
 jStarDisp.forEach((d,i)=>{const sx=fx(d),sy=fy(jStarRatio[i]);let sp='';
  for(let k=0;k<10;k++){const r=k%2?2.8:6.5,a=-Math.PI/2+k*Math.PI/5;sp+=(k?'L':'M')+(sx+r*Math.cos(a)).toFixed(1)+','+(sy+r*Math.sin(a)).toFixed(1);}
  mk('path',g,{d:sp+'Z',fill:'#f01010'},'this-work-star',false);});
 mk('rect',g,{x:X0,y:Y0,width:X1-X0,height:Y1-Y0,fill:'none',stroke:'#000','stroke-width':2.5},'plot-frame',false);
 jXTicks.forEach(v=>{const x=fx(Math.pow(10,v));mk('line',g,{x1:x,x2:x,y1:Y1,y2:Y1-5,stroke:'#000','stroke-width':2},'x-tick',false);
  sup(g,x,Y1+28,'10',String(v),22,'middle','#000','x-tick-label');});
 jYTicks.forEach(v=>{const y=fy(Math.pow(10,v));mk('line',g,{x1:X0,x2:X0+5,y1:y,y2:y,stroke:'#000','stroke-width':2},'y-tick',false);
  mk('line',g,{x1:X1,x2:X1-5,y1:y,y2:y,stroke:'#000','stroke-width':2},'y-tick-right',false);
  sup(g,X0-4,y+8,'10',String(v),22,'end','#000','y-tick-label');});
 txt(g,828,580,'1 J/g',14,'start','#2eb890','label-1');
 txt(g,908,578,'10',14,'start','#3c8c3c','label-10');
 sup(g,824,624,'10','-1',14,'start','#a8dcc8','label-0-1');
 sup(g,825,675,'10','-2',14,'start','#7ab4dc','label-0-01');
 sup(g,823,726,'10','-3',14,'start','#3f86c0','label-0-001');
 sup(g,824,782,'10','-4',14,'start','#2060a0','label-0-0001');
 const fm=mk('g',g,{'font-family':'Liberation Serif, serif','font-style':'italic','font-weight':'bold'},'formula',false);
 txt(fm,970,588,'W  =',16,'start','#000','formula-lhs','bold');
 const n=txt(fm,1022,580,'',15,'middle','#000','formula-num','bold');n.innerHTML='m<tspan font-size="10" dy="3">l</tspan>';
 mk('line',fm,{x1:1012,x2:1033,y1:584,y2:584,stroke:'#000','stroke-width':1},'formula-bar',false);
 const dn=txt(fm,1022,598,'',15,'middle','#000','formula-den','bold');dn.innerHTML='m<tspan font-size="10" dy="3">a</tspan>';
 txt(fm,1036,589,'gd',16,'start','#000','formula-rhs','bold');
 txt(g,945,883,'Displacement/mm',22,'middle','#000','x-axis-title');
 const yt=txt(g,781,695,'',22,'middle','#000','y-axis-title','bold',{transform:'rotate(-90 781 695)'});yt.innerHTML='m<tspan font-size="14" dy="5">l</tspan><tspan dy="-5">/m</tspan><tspan font-size="14" dy="5">a</tspan>';
})();
</script>
</body></html>
